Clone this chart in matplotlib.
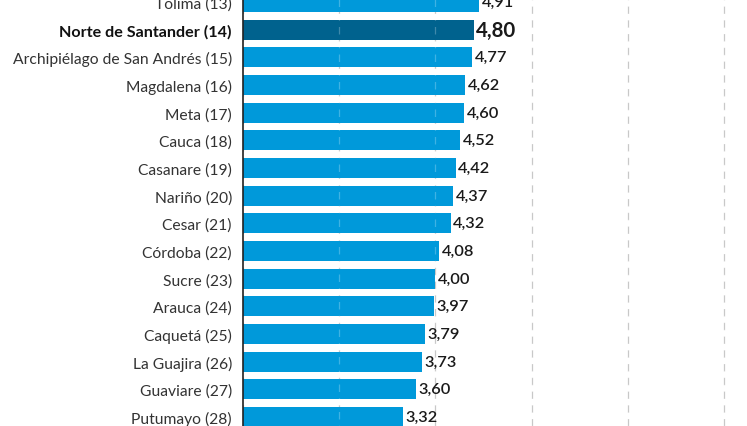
import matplotlib
matplotlib.use("Agg")
import matplotlib.pyplot as plt

categories = ["Tolima (13)", "Norte de Santander (14)", "Archipiélago de San Andrés (15)",
              "Magdalena (16)", "Meta (17)", "Cauca (18)", "Casanare (19)", "Nariño (20)",
              "Cesar (21)", "Córdoba (22)", "Sucre (23)", "Arauca (24)", "Caquetá (25)",
              "La Guajira (26)", "Guaviare (27)", "Putumayo (28)"]
values = [4.91, 4.80, 4.77, 4.62, 4.60, 4.52, 4.42, 4.37, 4.32, 4.08, 4.00, 3.97, 3.79,
          3.73, 3.60, 3.32]
highlight = "Norte de Santander (14)"
grid_ticks = [0, 2, 4, 6, 8, 10]

plt.rcParams['font.family'] = ['Lato', 'DejaVu Sans']

fig = plt.figure(figsize=(7.47, 4.27), dpi=100)
ax = fig.add_axes([243/747, 0, 1 - 243/747, 1])

light = "#0099DA"
dark = "#00628E"
ys = list(range(len(categories)))
colors = [dark if c == highlight else light for c in categories]
ax.barh(ys, values, height=0.73, color=colors, zorder=2)

for y, v, c in zip(ys, values, categories):
    txt = f"{v:.2f}".replace('.', ',')
    if c == highlight:
        ax.text(v + 0.05, y, txt, va='center', ha='left', fontsize=14.8, fontweight='bold', color='#1a1a1a')
    else:
        ax.text(v + 0.05, y, txt, va='center', ha='left', fontsize=11.8, fontweight='semibold', color='#1a1a1a')

ax.set_xlim(0, 10.48)
ax.set_ylim(15 + 9/27.67, -3/27.67)
ax.set_yticks(ys)
ax.set_yticklabels(categories)
for lbl in ax.get_yticklabels():
    if lbl.get_text() == highlight:
        lbl.set_fontweight('bold')
        lbl.set_color('#111111')
        lbl.set_fontsize(11.6)
    else:
        lbl.set_color('#333333')
        lbl.set_fontsize(11.25)
ax.tick_params(axis='y', length=0, pad=8)
ax.set_xticks(grid_ticks)
ax.tick_params(axis='x', length=0, labelbottom=False)
ax.grid(axis='x', color='#c8c8c8', linestyle=(0, (6, 5)), linewidth=0.9, zorder=1)
ax.set_axisbelow(True)
# faint grid visible through the bars
ax.vlines(grid_ticks[1:], -1, 16, colors='white', linestyles=(0, (6, 5)), linewidth=0.9, alpha=0.25, zorder=2.5)
for s in ['top', 'right', 'bottom']:
    ax.spines[s].set_visible(False)
ax.spines['left'].set_color('#222222')
ax.spines['left'].set_linewidth(1.2)
ax.spines['left'].set_zorder(3)

fig.savefig("out.png", dpi=100)
